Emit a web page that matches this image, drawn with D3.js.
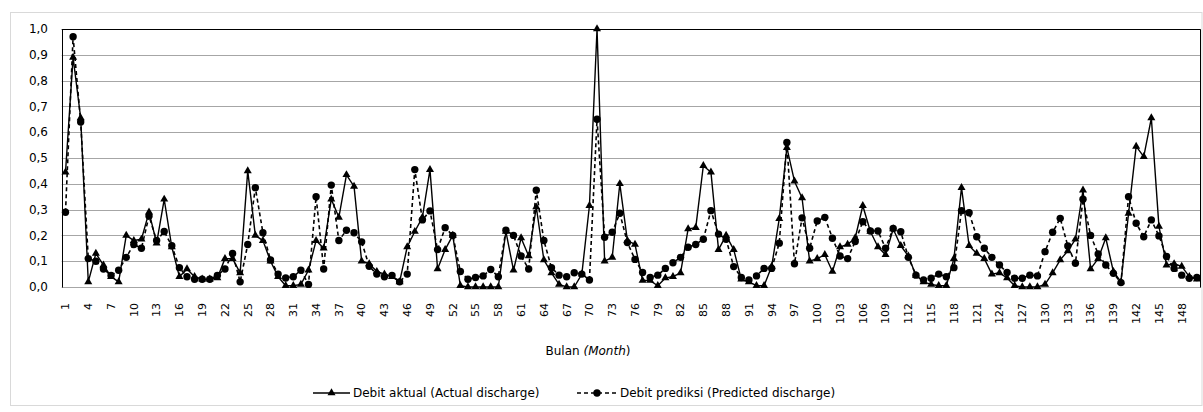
<!DOCTYPE html>
<html><head><meta charset="utf-8">
<script src="https://cdn.jsdelivr.net/npm/d3@7"></script>
<style>
html,body{margin:0;padding:0;background:#fff;}
svg{display:block;font-family:"DejaVu Sans",Verdana,sans-serif;}
</style></head>
<body>
<svg id="chart" width="1203" height="412"></svg>
<script>
const months = d3.range(1, 151);
const actual = [
0.445,0.89,0.655,0.02,0.13,0.085,0.04,0.02,0.2,0.18,
0.185,0.29,0.17,0.34,0.155,0.04,0.07,0.04,0.03,0.03,
0.035,0.11,0.11,0.055,0.45,0.2,0.18,0.1,0.04,0.005,
0.005,0.01,0.065,0.18,0.15,0.34,0.27,0.435,0.39,0.1,
0.09,0.06,0.05,0.04,0.02,0.155,0.215,0.27,0.455,0.07,
0.145,0.2,0.005,0,0,0,0,0,0.215,0.065,
0.19,0.12,0.31,0.105,0.055,0.01,0,0,0.05,0.315,
1.0,0.1,0.115,0.4,0.18,0.165,0.025,0.025,0.005,0.035,
0.04,0.055,0.225,0.23,0.47,0.445,0.145,0.2,0.145,0.03,
0.02,0.005,0.005,0.08,0.265,0.54,0.41,0.345,0.1,0.11,
0.125,0.06,0.155,0.165,0.19,0.315,0.215,0.155,0.125,0.225,
0.16,0.12,0.045,0.02,0.01,0.005,0.005,0.11,0.385,0.16,
0.13,0.11,0.05,0.055,0.035,0.005,0,0,0,0.01,
0.055,0.105,0.14,0.185,0.375,0.07,0.11,0.19,0.06,0.02,
0.285,0.545,0.505,0.655,0.235,0.085,0.09,0.08,0.04,0.03];
const predicted = [
0.29,0.97,0.64,0.11,0.1,0.07,0.045,0.065,0.115,0.165,
0.15,0.275,0.18,0.215,0.16,0.075,0.04,0.03,0.03,0.03,
0.045,0.07,0.13,0.02,0.165,0.385,0.21,0.105,0.05,0.035,
0.04,0.065,0.01,0.35,0.07,0.395,0.18,0.22,0.21,0.175,
0.08,0.05,0.04,0.045,0.02,0.05,0.455,0.26,0.295,0.145,
0.23,0.2,0.06,0.03,0.037,0.043,0.068,0.04,0.22,0.2,
0.12,0.07,0.375,0.18,0.075,0.046,0.04,0.055,0.05,0.027,
0.65,0.193,0.212,0.286,0.172,0.107,0.056,0.037,0.046,0.072,
0.094,0.115,0.154,0.165,0.185,0.296,0.205,0.185,0.079,0.037,
0.027,0.043,0.072,0.072,0.17,0.56,0.09,0.268,0.15,0.256,
0.27,0.189,0.12,0.11,0.176,0.253,0.217,0.217,0.15,0.227,
0.214,0.115,0.046,0.027,0.034,0.05,0.04,0.075,0.296,0.288,
0.195,0.15,0.115,0.085,0.056,0.034,0.034,0.046,0.043,0.137,
0.212,0.266,0.159,0.092,0.34,0.2,0.128,0.085,0.053,0.017,
0.35,0.247,0.195,0.26,0.198,0.118,0.072,0.046,0.034,0.037];
const yTicks = [0,0.1,0.2,0.3,0.4,0.5,0.6,0.7,0.8,0.9,1.0];
const xTickLabels = months.filter((m,i)=> i%3===0);
const seriesNames = ["Debit aktual (Actual discharge)", "Debit prediksi (Predicted discharge)"];

const svg = d3.select("#chart");
const L = 61.7, R = 1200.7, T = 29, B = 287;
const x = d3.scaleBand().domain(months).range([L, R]).padding(0);
const y = d3.scaleLinear().domain([0,1]).range([B, T]);
const cx = d => x(d) + x.bandwidth()/2;

// outer border
svg.append("rect").attr("x",10.5).attr("y",12.5).attr("width",1191.5).attr("height",393)
  .attr("fill","#fff").attr("stroke","#d9d9d9").attr("stroke-width",1);

// gridlines
svg.append("g").selectAll("line").data(yTicks).join("line")
  .attr("x1",L).attr("x2",R)
  .attr("y1",d=>Math.round(y(d))+0.5).attr("y2",d=>Math.round(y(d))+0.5)
  .attr("stroke",d=> d===1 ? "#000" : "#a6a6a6").attr("stroke-width",1);

// plot border left/right
svg.append("line").attr("x1",Math.round(L)+0.5).attr("x2",Math.round(L)+0.5)
  .attr("y1",Math.round(y(1))+0.5).attr("y2",Math.round(y(0))+0.5).attr("stroke","#000");
svg.append("line").attr("x1",Math.round(R)-0.5).attr("x2",Math.round(R)-0.5)
  .attr("y1",Math.round(y(1))+0.5).attr("y2",Math.round(y(0))+0.5).attr("stroke","#000");

// y axis labels
const fmt = d => d3.format(".1f")(d).replace(".", ",");
svg.append("g").selectAll("text").data(yTicks).join("text")
  .attr("x",48).attr("y",d=>y(d)).attr("dy","0.35em")
  .attr("text-anchor","end").attr("font-size",12).attr("fill","#000")
  .text(fmt);

// x labels
svg.append("g").selectAll("text").data(xTickLabels).join("text")
  .attr("transform",d=>`translate(${cx(d)},${B+16}) rotate(-90)`)
  .attr("dy","0.35em").attr("text-anchor","end")
  .attr("font-size",11).attr("fill","#000").text(d=>d);

// axis title
const title = svg.append("text").attr("x",588).attr("y",355).attr("text-anchor","middle")
  .attr("font-size",12).attr("fill","#000");
title.append("tspan").text("Bulan ");
title.append("tspan").attr("font-style","italic").text("(Month");
title.append("tspan").text(")");

// lines
const lineA = d3.line().x((d,i)=>cx(months[i])).y(d=>y(d));
svg.append("path").datum(actual).attr("d",lineA).attr("fill","none")
  .attr("stroke","#000").attr("stroke-width",1.4).attr("stroke-linejoin","round");
const tri = d3.symbol().type(d3.symbolTriangle).size(28);
svg.append("g").selectAll("path").data(actual).join("path")
  .attr("transform",(d,i)=>`translate(${cx(months[i])},${y(d)})`)
  .attr("d",tri).attr("fill","#000");

svg.append("path").datum(predicted).attr("d",lineA).attr("fill","none")
  .attr("stroke","#000").attr("stroke-width",1.6).attr("stroke-dasharray","4,3");
svg.append("g").selectAll("circle").data(predicted).join("circle")
  .attr("cx",(d,i)=>cx(months[i])).attr("cy",d=>y(d)).attr("r",3.7).attr("fill","#000");

// legend
const ly = 393;
const lg = svg.append("g");
lg.append("line").attr("x1",313).attr("x2",350).attr("y1",ly).attr("y2",ly).attr("stroke","#000").attr("stroke-width",1.4);
lg.append("path").attr("transform",`translate(331.5,${ly})`).attr("d",tri).attr("fill","#000");
lg.append("text").attr("x",353).attr("y",ly).attr("dy","0.35em").attr("font-size",12).text(seriesNames[0]);
lg.append("line").attr("x1",577).attr("x2",617).attr("y1",ly).attr("y2",ly).attr("stroke","#000").attr("stroke-width",1.6).attr("stroke-dasharray","4,3");
lg.append("circle").attr("cx",597).attr("cy",ly).attr("r",3.7).attr("fill","#000");
lg.append("text").attr("x",620).attr("y",ly).attr("dy","0.35em").attr("font-size",12).text(seriesNames[1]);
</script>
</body></html>
